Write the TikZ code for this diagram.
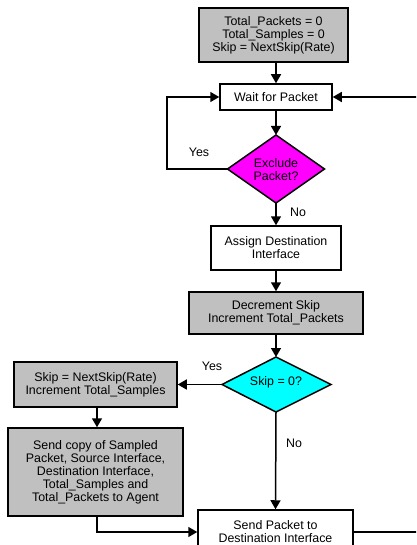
\documentclass[tikz,border=0pt]{standalone}
\usepackage{fontspec}
\setmainfont{Liberation Sans}
\usetikzlibrary{arrows.meta}
\definecolor{boxgray}{RGB}{192,192,192}
\definecolor{mag}{RGB}{255,0,255}
\definecolor{cyn}{RGB}{0,255,255}
\begin{document}
\begin{tikzpicture}[x=1pt,y=-1pt,
  txt/.style={font=\fontsize{12.4}{13}\selectfont},
  box/.style={draw, line width=1.5pt, align=center, inner sep=0pt, fill=white, txt},
  graybox/.style={box, fill=boxgray},
  lbl/.style={txt, inner sep=0pt, align=center},
  conn/.style={line width=1.5pt, -{Triangle[width=10pt,length=9pt]}},
  dia/.style={line width=1.5pt, line join=miter},
]
\useasboundingbox (0,0) rectangle (416,545);
\clip (0,0) rectangle (416,545);

% boxes
\node[graybox, minimum width=149pt, minimum height=54pt] (init) at (273.5,35)
  {Total\_Packets = 0\\Total\_Samples = 0\\Skip = NextSkip(Rate)};
\node[box, minimum width=112pt, minimum height=26pt] (wait) at (276,97) {Wait for Packet};
\node[box, minimum width=130pt, minimum height=44pt] (assign) at (276,248)
  {Assign Destination\\Interface};
\node[graybox, minimum width=174pt, minimum height=42pt] (decr) at (276,313)
  {Decrement Skip\\Increment Total\_Packets};
\node[graybox, minimum width=163pt, minimum height=45pt] (next) at (95.5,384.5)
  {Skip = NextSkip(Rate)\\Increment Total\_Samples};
\node[graybox, minimum width=175pt, minimum height=88pt] (copy) at (95.5,472)
  {Send copy of Sampled\\Packet, Source Interface,\\Destination Interface,\\Total\_Samples and\\Total\_Packets to Agent};
\node[box, minimum width=155pt, minimum height=44pt] (send) at (275.5,532)
  {Send Packet to\\Destination Interface};

% diamonds
\coordinate (exT) at (276,135);
\coordinate (exR) at (324.5,169);
\coordinate (exB) at (276,203);
\coordinate (exL) at (227.5,169);
\draw[dia, fill=mag] (exT) -- (exR) -- (exB) -- (exL) -- cycle;
\node[lbl] (excl) at (276,170) {Exclude\\Packet?};

\coordinate (skT) at (276,357);
\coordinate (skR) at (331,384.5);
\coordinate (skB) at (276,412);
\coordinate (skL) at (222,384.5);
\draw[dia, fill=cyn] (skT) -- (skR) -- (skB) -- (skL) -- cycle;
\node[lbl] (skip) at (276,382) {Skip = 0?};

% corner coordinates for loops
\coordinate (lft) at (167,169);
\coordinate (rgt) at (420,532);
\coordinate (cpy) at (97,516);

% connectors
\draw[conn] (init.south -| wait) -- (wait.north);
\draw[conn] (wait.south) -- (exT);
\draw[conn] (exL) -- (lft) |- (wait.west);
\draw[conn] (exB) -- (assign.north);
\draw[conn] (assign.south) -- (decr.north);
\draw[conn] (decr.south) -- (skT);
\draw[conn] (skL) -- (next.east);
\draw[conn] (skB) -- (send.north);
\draw[conn] (next.south -| cpy) -- (copy.north -| cpy);
\draw[conn] (cpy) |- (send.west);
\draw[conn] (send.east) -- (rgt) |- (wait.east);

% labels
\node[lbl] (yes1) at (199,152) {Yes};
\node[lbl] (no1) at (298,212) {No};
\node[lbl] (yes2) at (212,366) {Yes};
\node[lbl] (no2) at (294,443) {No};
\end{tikzpicture}
\end{document}
